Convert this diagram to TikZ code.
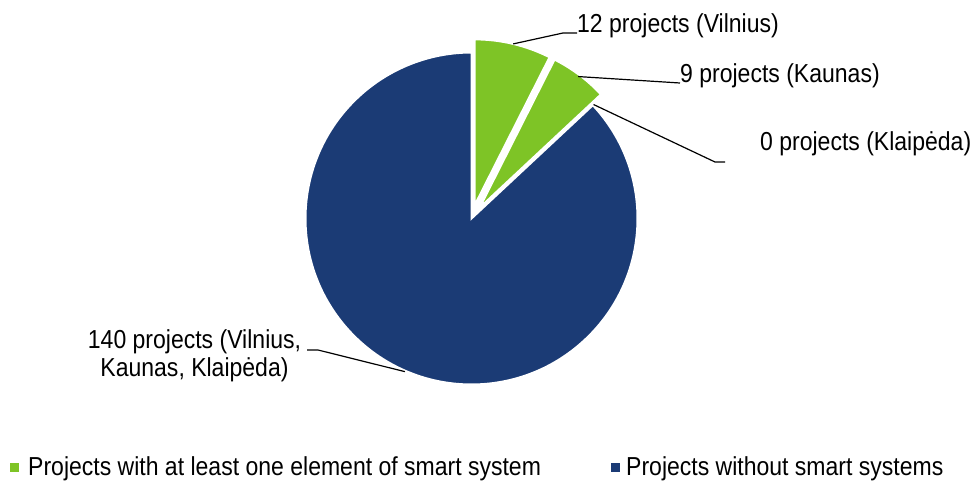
\documentclass[tikz,border=0pt]{standalone}
\usepackage{fontspec}
\setmainfont{Liberation Sans}[FakeStretch=0.885]
\usepackage{xcolor}
\usepackage{tikz}

\definecolor{smartgreen}{RGB}{126,196,38}
\definecolor{plainnavy}{RGB}{27,59,117}

\begin{document}
\begin{tikzpicture}[x=1pt, y=1pt,
    slice/.style={draw=white, line width=2pt, line join=miter},
    lbl/.style={inner sep=0pt, font=\fontsize{26}{28}\selectfont},
    leader/.style={draw=black, line width=1.2pt},
    keybox/.style={draw=none, minimum size=9pt, inner sep=0pt}]
    \useasboundingbox (0,0) rectangle (975,483);

    % Pie centres (green wedges pulled out along their bisectors)
    \coordinate (C)  at (471.5,264.5);
    \coordinate (vC) at ([shift={(C)}]76.58:13.5);
    \coordinate (kC) at ([shift={(C)}]53.10:13.5);

    % Wedges: 12 + 9 + 0 + 140 = 161 projects
    \filldraw[slice, fill=plainnavy] (C) -- ++(43.04:166) arc[start angle=43.04, end angle=-270, radius=166] -- cycle;
    \filldraw[slice, fill=smartgreen] (vC) -- ++(90:166) arc[start angle=90, end angle=63.17, radius=166] -- cycle;
    \filldraw[slice, fill=smartgreen] (kC) -- ++(63.17:166) arc[start angle=63.17, end angle=43.04, radius=166] -- cycle;

    % Leader start points on the rims
    \coordinate (vTip) at ([shift={(vC)}]76.58:166);
    \coordinate (kTip) at ([shift={(kC)}]53.10:164);
    \coordinate (lTip) at ([shift={(C)}]43.04:167);
    \coordinate (nTip) at ([shift={(C)}]246.5:167);

    % Labels
    \node[lbl, anchor=base west] (lblV) at (577,450) {12 projects (Vilnius)};
    \node[lbl, anchor=base west] (lblK) at (680,400) {9 projects (Kaunas)};
    \node[lbl, anchor=base west] (lblL) at (760,333) {0 projects (Klaipėda)};
    \node[lbl, align=center] (lblN) at (194.5,126.8) {140 projects (Vilnius,\\Kaunas, Klaipėda)};

    % Leader lines
    \coordinate (vKnee) at (563,450);
    \coordinate (lKnee) at (715,321);
    \coordinate (lEnd)  at (725,321);
    \coordinate (nKnee) at (318,133);
    \coordinate (nEnd)  at (307,133);
    \draw[leader] (vTip) -- (vKnee) -- (lblV.base west);
    \draw[leader] (kTip) -- (lblK.base west);
    \draw[leader] (lTip) -- (lKnee) -- (lEnd);
    \draw[leader] (nTip) -- (nKnee) -- (nEnd);

    % Legend
    \node[keybox, fill=smartgreen] (keyG) at (14.5,15.5) {};
    \node[lbl, anchor=base west] (keyGtxt) at (28,8) {Projects with at least one element of smart system};
    \node[keybox, fill=plainnavy] (keyN) at (615,15.5) {};
    \node[lbl, anchor=base west] (keyNtxt) at (626,8) {Projects without smart systems};
\end{tikzpicture}
\end{document}
